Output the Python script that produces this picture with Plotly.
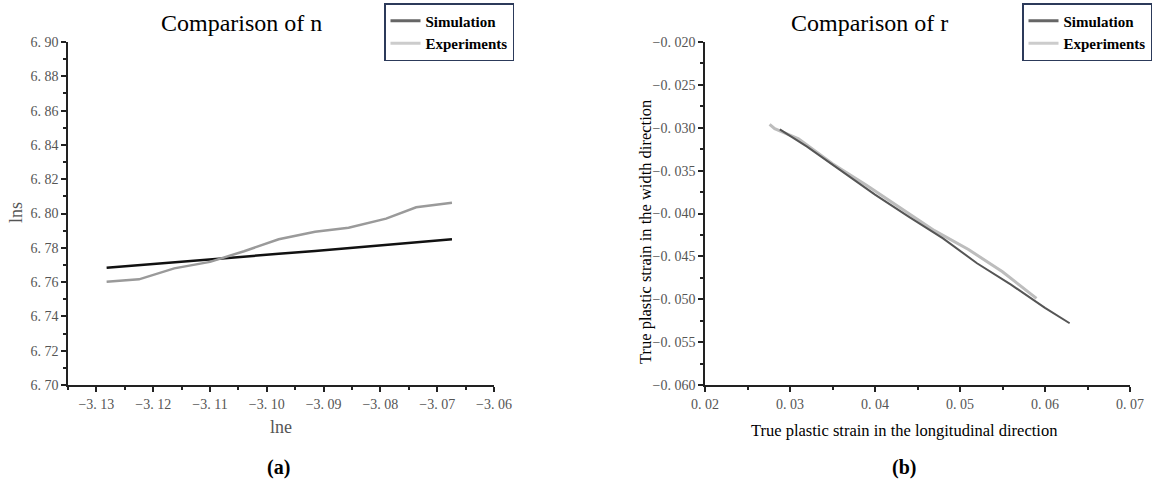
import plotly.graph_objects as go

# ---- Data: panel (a) Comparison of n ----
lne = [-3.1282, -3.1225, -3.1163, -3.1100, -3.1040, -3.0979, -3.0915, -3.0856, -3.0790, -3.0737, -3.0674]
lns_exp = [6.7602, 6.7616, 6.7680, 6.7718, 6.7780, 6.7850, 6.7894, 6.7917, 6.7970, 6.8036, 6.8063]
lns_sim = [6.7684, 6.7700, 6.7716, 6.7732, 6.7749, 6.7765, 6.7782, 6.7798, 6.7815, 6.7832, 6.7850]

# ---- Data: panel (b) Comparison of r ----
long_sim = [0.0288, 0.0320, 0.0360, 0.0400, 0.0440, 0.0480, 0.0520, 0.0560, 0.0600, 0.0629]
width_sim = [-0.0302, -0.0322, -0.0350, -0.0378, -0.0404, -0.0429, -0.0458, -0.0483, -0.0510, -0.0528]
long_exp = [0.0276, 0.0282, 0.0310, 0.0350, 0.0390, 0.0430, 0.0470, 0.0510, 0.0550, 0.0590]
width_exp = [-0.0296, -0.0301, -0.0313, -0.0342, -0.0367, -0.0393, -0.0420, -0.0442, -0.0468, -0.0499]

# ---- Tick labels ----
xa_vals = [-3.13, -3.12, -3.11, -3.10, -3.09, -3.08, -3.07, -3.06]
xa_text = ["\u22123. 13", "\u22123. 12", "\u22123. 11", "\u22123. 10", "\u22123. 09", "\u22123. 08", "\u22123. 07", "\u22123. 06"]
ya_vals = [6.70, 6.72, 6.74, 6.76, 6.78, 6.80, 6.82, 6.84, 6.86, 6.88, 6.90]
ya_text = ["6. 70", "6. 72", "6. 74", "6. 76", "6. 78", "6. 80", "6. 82", "6. 84", "6. 86", "6. 88", "6. 90"]
xb_vals = [0.02, 0.03, 0.04, 0.05, 0.06, 0.07]
xb_text = ["0. 02", "0. 03", "0. 04", "0. 05", "0. 06", "0. 07"]
yb_vals = [-0.060, -0.055, -0.050, -0.045, -0.040, -0.035, -0.030, -0.025, -0.020]
yb_text = ["\u22120. 060", "\u22120. 055", "\u22120. 050", "\u22120. 045", "\u22120. 040", "\u22120. 035", "\u22120. 030", "\u22120. 025", "\u22120. 020"]

W, H = 1159, 482
SERIF = "Liberation Serif, Times New Roman, DejaVu Serif, serif"
TICKFONT = dict(family=SERIF, size=14, color="#555555")

fig = go.Figure()

# panel (a)
fig.add_trace(go.Scatter(x=lne, y=lns_sim, mode="lines", line=dict(color="#111111", width=2.5),
                         xaxis="x", yaxis="y", showlegend=False))
fig.add_trace(go.Scatter(x=lne, y=lns_exp, mode="lines", line=dict(color="#9a9a9a", width=2.5),
                         xaxis="x", yaxis="y", showlegend=False))
# legend entries (a)
fig.add_trace(go.Scatter(x=[None], y=[None], mode="lines", name="Simulation",
                         line=dict(color="#666666", width=3), xaxis="x", yaxis="y", legend="legend"))
fig.add_trace(go.Scatter(x=[None], y=[None], mode="lines", name="Experiments",
                         line=dict(color="#cccccc", width=3), xaxis="x", yaxis="y", legend="legend"))

# panel (b)
fig.add_trace(go.Scatter(x=long_exp, y=width_exp, mode="lines", line=dict(color="#bdbdbd", width=3),
                         xaxis="x2", yaxis="y2", showlegend=False))
fig.add_trace(go.Scatter(x=long_sim, y=width_sim, mode="lines", line=dict(color="#555555", width=2),
                         xaxis="x2", yaxis="y2", showlegend=False))
fig.add_trace(go.Scatter(x=[None], y=[None], mode="lines", name="Simulation",
                         line=dict(color="#666666", width=3), xaxis="x2", yaxis="y2", legend="legend2"))
fig.add_trace(go.Scatter(x=[None], y=[None], mode="lines", name="Experiments",
                         line=dict(color="#cccccc", width=3), xaxis="x2", yaxis="y2", legend="legend2"))

ydom = [1 - 385 / H, 1 - 42 / H]
common = dict(showline=True, linecolor="#222222", linewidth=1.5, ticks="outside", ticklen=5,
              tickwidth=1.5, tickcolor="#222222", showgrid=False, zeroline=False, tickfont=TICKFONT,
              mirror=False, automargin=False)
mnr = dict(ticks="outside", ticklen=3, tickcolor="#222222", tickwidth=1.5)
legfont = dict(family=SERIF, size=15, color="black", weight="bold")

fig.update_layout(
    width=W, height=H, margin=dict(l=0, r=0, t=0, b=0, autoexpand=False),
    paper_bgcolor="white", plot_bgcolor="white",
    xaxis=dict(domain=[68 / W, 494 / W], range=[-3.135, -3.06], tickvals=xa_vals, ticktext=xa_text,
               minor=dict(dtick=0.005, tick0=-3.135, **mnr), anchor="y", **common),
    yaxis=dict(domain=ydom, range=[6.70, 6.90], tickvals=ya_vals, ticktext=ya_text,
               minor=dict(dtick=0.01, tick0=6.70, **mnr), anchor="x", **common),
    xaxis2=dict(domain=[705 / W, 1130 / W], range=[0.02, 0.07], tickvals=xb_vals, ticktext=xb_text,
                minor=dict(dtick=0.005, tick0=0.02, **mnr), anchor="y2", **common),
    yaxis2=dict(domain=ydom, range=[-0.060, -0.020], tickvals=yb_vals, ticktext=yb_text,
                minor=dict(dtick=0.0025, tick0=-0.06, **mnr), anchor="x2", **common),
    legend=dict(x=384 / W, y=1 - 3 / H, xanchor="left", yanchor="top", bgcolor="white",
                bordercolor="#2c3a5a", borderwidth=1.5, tracegroupgap=0,
                font=legfont, itemwidth=30, traceorder="normal"),
    legend2=dict(x=1022 / W, y=1 - 3 / H, xanchor="left", yanchor="top", bgcolor="white",
                 bordercolor="#2c3a5a", borderwidth=1.5, tracegroupgap=0,
                 font=legfont, itemwidth=30, traceorder="normal"),
)

ann = [
    dict(text="Comparison of n", x=241 / W, y=1 - 23 / H, font=dict(family=SERIF, size=24, color="black")),
    dict(text="Comparison of r", x=869 / W, y=1 - 23 / H, font=dict(family=SERIF, size=24, color="black")),
    dict(text="lne", x=281 / W, y=1 - 427 / H, font=dict(family=SERIF, size=18, color="#555555")),
    dict(text="lns", x=16 / W, y=1 - 213 / H, textangle=-90, font=dict(family=SERIF, size=18, color="#555555")),
    dict(text="True plastic strain in the longitudinal direction", x=904 / W, y=1 - 430 / H,
         font=dict(family=SERIF, size=16.5, color="black")),
    dict(text="True plastic strain in the width direction", x=645 / W, y=1 - 232 / H, textangle=-90,
         font=dict(family=SERIF, size=16.5, color="black")),
    dict(text="<b>(a)</b>", x=278 / W, y=1 - 467 / H, font=dict(family=SERIF, size=20, color="black")),
    dict(text="<b>(b)</b>", x=904 / W, y=1 - 467 / H, font=dict(family=SERIF, size=20, color="black")),
]
for a in ann:
    a.update(xref="paper", yref="paper", showarrow=False, xanchor="center", yanchor="middle")
    fig.add_annotation(**a)

fig.write_html("out.html", config={"displayModeBar": False},
               post_script="document.body.style.margin='0';document.body.style.overflow='hidden';")
